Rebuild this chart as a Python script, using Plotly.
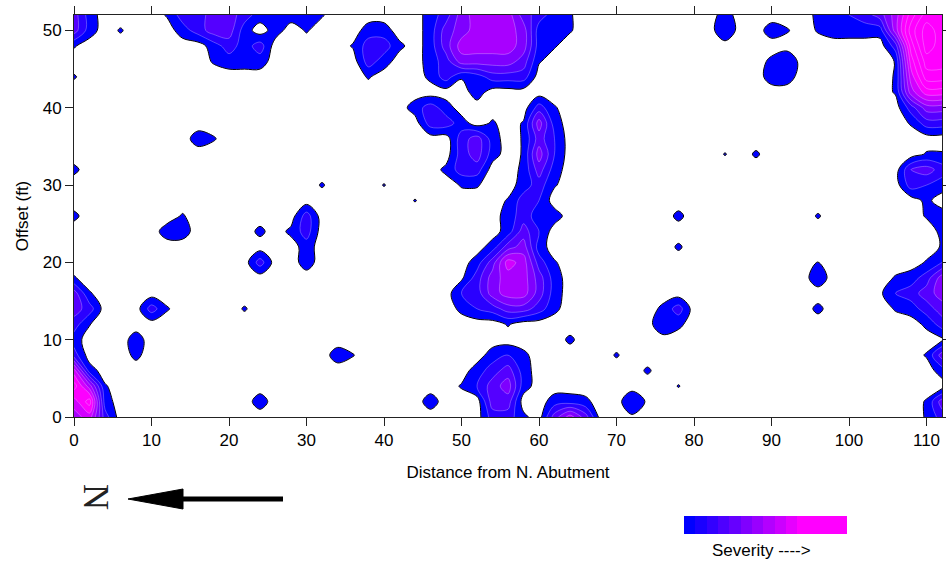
import numpy as np
import plotly.graph_objects as go

W, H = 946, 563

# ---------------- data ----------------
distance_ft = list(range(0, 113, 2))      # grid columns (ft from N. abutment)
offset_ft = list(range(52, -1, -2))       # grid rows, top (52 ft) to bottom (0 ft)

# severity on a 2 ft grid: "distance:severity" (unlisted = 0)
severity_rows = [
    "0:3 2:1 12:0.6 14:2 16:2 18:3 20:3 22:2 24:1 26:1 28:1 30:1 32:0.6 46:1 48:2 50:4 52:5 54:5 56:5 58:3 60:2 62:1 64:0.6 84:1 96:0.75 98:1.5 100:1.5 102:2 104:3 106:5 108:8 110:10 112:10",
    "0:3 2:1 6:0.6 14:1 16:2 18:3 20:3 22:1 26:1 30:0.6 38:1 40:1 46:1 48:3 50:4 52:5 54:5 56:5 58:4 60:1 62:1 64:0.6 84:1.5 90:1 92:0.6 96:0.6 98:1 100:1 102:1 104:1 106:5 108:9 110:11 112:10",
    "0:0.6 18:1 20:2 22:1 24:2 36:0.6 38:2 40:2 42:0.75 46:1 48:3 50:5 52:5 54:5 56:5 58:4 60:1 62:0.6 106:2 108:8 110:11 112:10",
    "18:0.6 20:1 22:1 24:1 38:2 40:1 46:1 48:2 50:4 52:4 54:4 56:4 58:3 60:0.6 90:0.75 92:1.5 106:0.55 108:7 110:10 112:10",
    "0:0.6 38:0.6 46:0.75 48:2 50:0.6 52:1 54:2 56:2 58:2 90:1 92:1 106:0.6 108:6 110:9 112:9",
    "52:1 106:0.6 108:5 110:7 112:7",
    "44:1 46:2 48:1 60:2 62:0.6 108:2 110:4 112:4",
    "46:2 48:2 50:1 54:0.65 58:0.6 60:4 62:1 108:0.6 110:2 112:2",
    "16:1 18:0.6 50:2 52:3 54:1 58:0.6 60:3 62:1.5",
    "50:2 52:3 54:1 58:0.6 60:4 62:1.5 84:0.55 88:0.65 110:0.6 112:0.6",
    "0:0.75 48:0.75 50:2 52:2 58:0.75 60:3 62:1 108:2.5 110:3 112:2",
    "32:0.6 40:0.55 50:0.6 52:0.6 58:1 60:2 62:0.6 108:2 110:1.5 112:1",
    "44:0.55 56:0.6 58:2 60:1.5 110:0.75",
    "0:0.75 14:0.6 30:2 56:1 58:2 60:1 62:1 78:0.75 96:0.6 110:0.6 112:1",
    "12:1 14:1 24:0.75 28:0.75 30:2 56:1 58:3 60:1.5 112:0.75",
    "30:1 54:1 56:3 58:4 60:1 78:0.65 112:0.6",
    "24:2 30:1 52:1 54:3 56:6 58:5 60:2 62:0.6 96:0.55 110:0.6 112:1.5",
    "0:0.6 50:0.3 52:2 54:4 56:5 58:5 60:3 62:1 96:1.2 106:0.6 108:1 110:2 112:4",
    "0:3 2:0.6 50:1.5 52:2 54:4 56:5 58:5 60:3 62:1 104:0.3 106:1.5 108:2 110:3 112:4",
    "0:3 2:2 10:2 12:0.6 22:0.6 50:0.75 52:1.5 54:2 56:3 58:3 60:2 62:0.75 76:0.75 78:2 96:0.75 106:0.6 108:1 110:2 112:3",
    "0:2 2:0.55 56:0.6 76:1.5 78:0.75 110:0.75 112:2",
    "0:1 8:1 64:0.7 112:0.3",
    "0:2 8:0.75 34:1 36:0.55 54:1 56:1.5 58:0.75 70:0.6 110:0.6 112:3",
    "0:6 2:1 52:1 54:2 56:3 58:1 74:0.65 112:1",
    "0:8 2:5 4:0.6 50:0.6 52:1.5 54:3 56:4 58:1 78:0.55",
    "0:6 2:8 4:1 24:1 46:1 54:3 56:3 62:1 64:1 66:0.75 72:1.5 74:0.3 110:0.6 112:3",
    "0:5 2:6 4:2 54:2 56:2 58:0.75 62:3 64:5 66:3 72:0.3 110:0.6 112:2",
]

x_ticks = [0, 10, 20, 30, 40, 50, 60, 70, 80, 90, 100, 110]
y_ticks = [0, 10, 20, 30, 40, 50]
legend_steps = [0, 1, 2, 3, 4, 5, 6, 7, 8, 9, 10]
legend_edges = [0, 1, 2, 3, 4, 5, 6, 7, 8, 9, 10, 14.4]

# ---------------- build grid ----------------
z = np.zeros((len(offset_ft), len(distance_ft)))
for r, row in enumerate(severity_rows):
    for tok in row.split():
        xs, vs = tok.split(":")
        z[r, distance_ft.index(int(xs))] = float(vs)
z = z[::-1]
y_vals = offset_ft[::-1]

LEV_START, LEV_END, LEV_SIZE = 0.5, 11.5, 1.0
n_levels = int(round((LEV_END - LEV_START) / LEV_SIZE)) + 1


def band_color(j):
    if j == 0:
        return "rgb(255,255,255)"
    r = min(255, int(round((j - 1) * 42)))
    return f"rgb({r},0,255)"


colorscale = [[j / n_levels, band_color(j)] for j in range(n_levels + 1)]

fig = go.Figure()
fig.add_trace(go.Contour(
    x=distance_ft, y=y_vals, z=z, autocontour=False,
    contours=dict(start=LEV_START, end=LEV_END, size=LEV_SIZE, coloring="fill"),
    colorscale=colorscale, showscale=False,
    line=dict(color="rgba(235,215,255,0.55)", width=0.6, smoothing=1.0),
    hoverinfo="skip",
))
fig.add_trace(go.Contour(
    x=distance_ft, y=y_vals, z=z, autocontour=False,
    contours=dict(start=LEV_START, end=LEV_START, size=LEV_SIZE, coloring="none"),
    line=dict(color="black", width=1, smoothing=1.0),
    showscale=False, hoverinfo="skip",
))
fig.add_trace(go.Heatmap(
    x=legend_edges, y=[0, 1], z=[legend_steps], xaxis="x2", yaxis="y2",
    colorscale=[[0, "rgb(0,0,255)"], [1, "rgb(255,0,255)"]], zmin=0, zmax=10,
    showscale=False, hoverinfo="skip",
))


def px(xp):
    return xp / W


def py(yp):
    return (H - yp) / H


axis_common = dict(
    ticks="outside", ticklen=8, tickwidth=1, tickcolor="#222",
    showline=True, linecolor="#222", linewidth=1, mirror="ticks",
    showgrid=False, zeroline=False, automargin=False,
    tickfont=dict(size=17, color="black"),
)

fig.update_layout(
    width=W, height=H, autosize=False,
    margin=dict(l=0, r=0, t=0, b=0, pad=0),
    paper_bgcolor="white", plot_bgcolor="white",
    font=dict(family="Liberation Sans, Arial, sans-serif", size=16, color="black"),
    showlegend=False,
    xaxis=dict(domain=[px(74), px(942)], range=[0, 112], tickvals=x_ticks,
               title=dict(text="Distance from N. Abutment", font=dict(size=17), standoff=16),
               **axis_common),
    yaxis=dict(domain=[py(417), py(15)], range=[0, 52], tickvals=y_ticks,
               title=dict(text="Offset (ft)", font=dict(size=17), standoff=9),
               **axis_common),
    xaxis2=dict(domain=[px(684), px(847)], range=[0, 14.4], visible=False, anchor="y2"),
    yaxis2=dict(domain=[py(534), py(516)], range=[0, 1], visible=False, anchor="x2"),
    annotations=[
        dict(text="N", x=px(96), y=py(497), xref="paper", yref="paper", showarrow=False,
             xanchor="center", yanchor="middle", textangle=90,
             font=dict(family="Liberation Serif, DejaVu Serif, serif", size=36, color="#222")),
        dict(text="Severity ---->", x=px(761), y=py(550), xref="paper", yref="paper",
             xanchor="center", yanchor="middle",
             showarrow=False, font=dict(size=17, color="black")),
    ],
    shapes=[
        dict(type="line", xref="paper", yref="paper", x0=px(180), x1=px(283), y0=py(499), y1=py(499),
             line=dict(color="black", width=5)),
        dict(type="path", xref="paper", yref="paper",
             path=f"M {px(128)},{py(499)} L {px(183)},{py(489)} L {px(183)},{py(509)} Z",
             fillcolor="black", line=dict(color="black", width=1)),
    ],
)

fig.write_html("out.html", config={"displayModeBar": False},
               post_script="document.body.style.margin='0px';document.body.style.overflow='hidden';")
